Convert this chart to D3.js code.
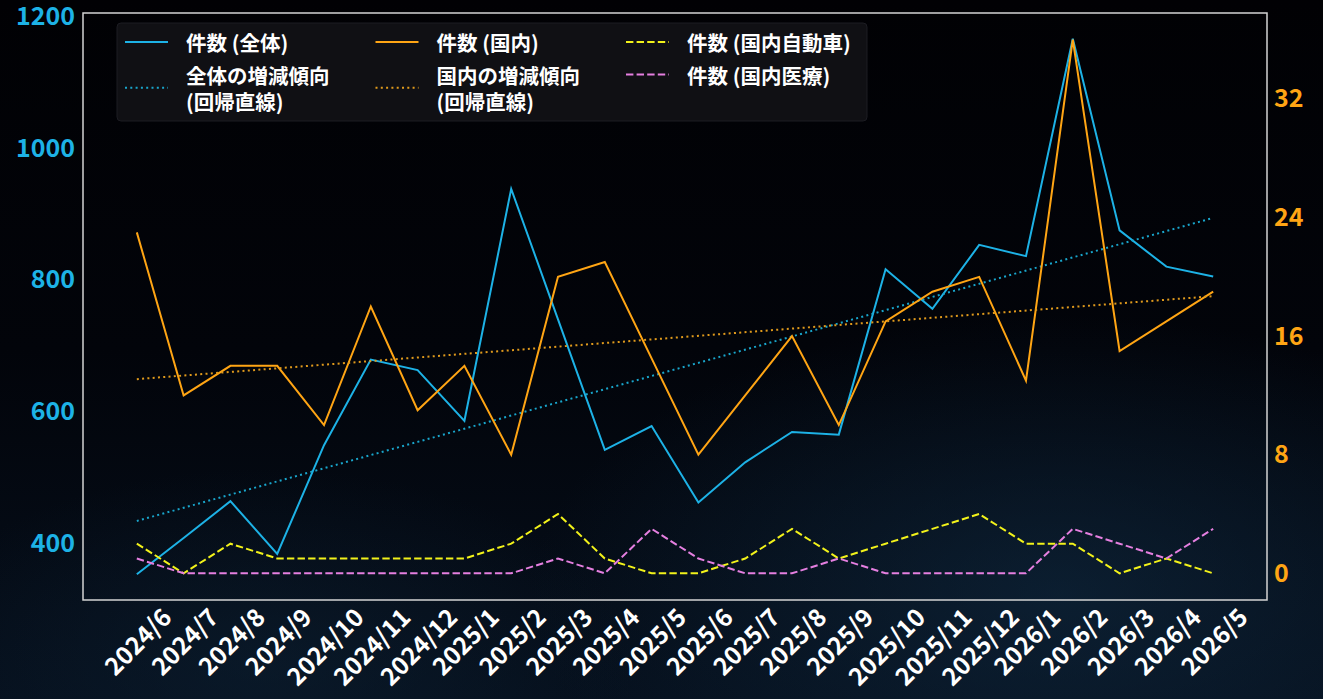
<!DOCTYPE html>
<html>
<head>
<meta charset="utf-8">
<script src="https://cdn.jsdelivr.net/npm/d3@7"></script>
<style>
  body { margin: 0; background: #000; }
  svg { display: block; }
  text { font-family: "Noto Sans CJK JP", "Noto Sans", sans-serif; font-weight: bold; }
</style>
</head>
<body>
<div class="chart"></div>
<script>
// months on the x axis
const months = ["2024/6","2024/7","2024/8","2024/9","2024/10","2024/11","2024/12",
    "2025/1","2025/2","2025/3","2025/4","2025/5","2025/6","2025/7","2025/8","2025/9",
    "2025/10","2025/11","2025/12","2026/1","2026/2","2026/3","2026/4","2026/5"];

// left axis: total count
const totalCounts = [353, 408, 464, 384, 549, 679, 663, 586, 938, 740, 542, 578,
    462, 523, 569, 565, 816, 756, 853, 836, 1166, 875, 820, 805];
// right axis: domestic counts
const domesticCounts = [23, 12, 14, 14, 10, 18, 11, 14, 8, 20, 21, 14.5,
    8, 12, 16, 10, 17, 19, 20, 13, 36, 15, 17, 19];
const autoCounts = [2, 0, 2, 1, 1, 1, 1, 1, 2, 4, 1, 0,
    0, 1, 3, 1, 2, 3, 4, 2, 2, 0, 1, 0];
const medicalCounts = [1, 0, 0, 0, 0, 0, 0, 0, 0, 1, 0, 3,
    1, 0, 0, 1, 0, 0, 0, 0, 3, 2, 1, 3];

// regression lines (first month, last month)
const totalTrend = [434, 894];
const domesticTrend = [13.1, 18.7];

const leftTicks = [400, 600, 800, 1000, 1200];
const rightTicks = [0, 8, 16, 24, 32];

const W = 1323, H = 699;
const plot = {left: 83, right: 1267, top: 13, bottom: 600};

const blue = "#1db2e6", orange = "#ffa514", yellow = "#f2f21a", pink = "#e57fe0";
const blueTrend = "#19a6cc", orangeTrend = "#e09a1c";

const svg = d3.select(".chart").append("svg")
    .attr("width", W)
    .attr("height", H);

// background
const defs = svg.append("defs");
const lg = defs.append("linearGradient").attr("id", "bgfade")
    .attr("x1", 0).attr("y1", 0).attr("x2", 0).attr("y2", 1);
lg.append("stop").attr("offset", "0%").attr("stop-color", "#010104");
lg.append("stop").attr("offset", "50%").attr("stop-color", "#02040a");
lg.append("stop").attr("offset", "100%").attr("stop-color", "#06101d");
const rg = defs.append("radialGradient").attr("id", "bgglow")
    .attr("cx", "80%").attr("cy", "85%").attr("r", "40%");
rg.append("stop").attr("offset", "0%").attr("stop-color", "#12304a").attr("stop-opacity", 0.5);
rg.append("stop").attr("offset", "100%").attr("stop-color", "#12304a").attr("stop-opacity", 0);
const rg2 = defs.append("radialGradient").attr("id", "bgglow2")
    .attr("cx", "20%").attr("cy", "95%").attr("r", "28%");
rg2.append("stop").attr("offset", "0%").attr("stop-color", "#0e2438").attr("stop-opacity", 0.45);
rg2.append("stop").attr("offset", "100%").attr("stop-color", "#0e2438").attr("stop-opacity", 0);

svg.append("rect").attr("width", W).attr("height", H).attr("fill", "url(#bgfade)");
svg.append("rect").attr("width", W).attr("height", H).attr("fill", "url(#bgglow)");
svg.append("rect").attr("width", W).attr("height", H).attr("fill", "url(#bgglow2)");

// scales
var x = d3.scaleLinear()
    .domain([-1.15, months.length - 1 + 1.15])
    .range([plot.left, plot.right]);
var yL = d3.scaleLinear()
    .domain([314, 1205])
    .range([plot.bottom, plot.top]);
var yR = d3.scaleLinear()
    .domain([-1.8, 37.8])
    .range([plot.bottom, plot.top]);

// axes
svg.append("g")
    .attr("transform", "translate(" + plot.left + ",0)")
    .call(d3.axisLeft(yL).tickValues(leftTicks).tickFormat(d3.format("d")).tickSize(0).tickPadding(8))
    .call(g => g.select(".domain").remove())
    .selectAll("text")
    .attr("fill", blue)
    .style("font-size", "25px");

svg.append("g")
    .attr("transform", "translate(" + plot.right + ",0)")
    .call(d3.axisRight(yR).tickValues(rightTicks).tickFormat(d3.format("d")).tickSize(0).tickPadding(7))
    .call(g => g.select(".domain").remove())
    .selectAll("text")
    .attr("fill", orange)
    .style("font-size", "25px");

// x labels rotated 45deg, centred under each month like matplotlib
const xl = svg.append("g").selectAll("text")
    .data(months)
    .enter()
    .append("text")
    .attr("fill", "#ffffff")
    .style("font-size", "24.5px")
    .attr("text-anchor", "middle")
    .attr("dominant-baseline", "central")
    .text(d => d);
xl.attr("transform", function(d, i) {
    const L = this.getComputedTextLength();
    const h = 19;
    const half = (L + h) / (2 * Math.SQRT2);
    return "translate(" + x(i) + "," + (plot.bottom + 5 + half) + ") rotate(-45)";
});

// lines
const lineL = d3.line().x((d, i) => x(i)).y(d => yL(d));
const lineR = d3.line().x((d, i) => x(i)).y(d => yR(d));
const last = months.length - 1;

svg.append("path")
    .datum(totalCounts)
    .attr("fill", "none")
    .attr("stroke", blue)
    .attr("stroke-width", 2)
    .attr("d", lineL);

svg.append("path")
    .datum([[0, totalTrend[0]], [last, totalTrend[1]]])
    .attr("fill", "none")
    .attr("stroke", blueTrend)
    .attr("stroke-width", 2)
    .attr("stroke-dasharray", "2,3.3")
    .attr("d", d3.line().x(d => x(d[0])).y(d => yL(d[1])));

svg.append("path")
    .datum(domesticCounts)
    .attr("fill", "none")
    .attr("stroke", orange)
    .attr("stroke-width", 2)
    .attr("d", lineR);

svg.append("path")
    .datum([[0, domesticTrend[0]], [last, domesticTrend[1]]])
    .attr("fill", "none")
    .attr("stroke", orangeTrend)
    .attr("stroke-width", 2)
    .attr("stroke-dasharray", "2,3.3")
    .attr("d", d3.line().x(d => x(d[0])).y(d => yR(d[1])));

svg.append("path")
    .datum(autoCounts)
    .attr("fill", "none")
    .attr("stroke", yellow)
    .attr("stroke-width", 2)
    .attr("stroke-dasharray", "7.4,3.2")
    .attr("d", lineR);

svg.append("path")
    .datum(medicalCounts)
    .attr("fill", "none")
    .attr("stroke", pink)
    .attr("stroke-width", 2)
    .attr("stroke-dasharray", "7.4,3.2")
    .attr("d", lineR);

// frame
svg.append("rect")
    .attr("x", plot.left)
    .attr("y", plot.top)
    .attr("width", plot.right - plot.left)
    .attr("height", plot.bottom - plot.top)
    .attr("fill", "none")
    .attr("stroke", "#d4d4d4")
    .attr("stroke-width", 1.5);

// legend
const legendItems = [
    {label: ["件数 (全体)"], color: blue, dash: null, col: 0, row: 0},
    {label: ["全体の増減傾向", "(回帰直線)"], color: blueTrend, dash: "2,3.3", col: 0, row: 1},
    {label: ["件数 (国内)"], color: orange, dash: null, col: 1, row: 0},
    {label: ["国内の増減傾向", "(回帰直線)"], color: orangeTrend, dash: "2,3.3", col: 1, row: 1},
    {label: ["件数 (国内自動車)"], color: yellow, dash: "7.4,3.2", col: 2, row: 0},
    {label: ["件数 (国内医療)"], color: pink, dash: "7.4,3.2", col: 2, row: 1}
];

const legend = svg.append("g");
legend.append("rect")
    .attr("x", 117).attr("y", 23)
    .attr("width", 750).attr("height", 98)
    .attr("rx", 4)
    .attr("fill", "#111116")
    .attr("fill-opacity", 0.92)
    .attr("stroke", "#1c1c22")
    .attr("stroke-width", 1);

const colX = [125, 375.5, 626];
const lineH = 26.5;
legendItems.forEach(item => {
    const top = item.row === 0 ? 42 : 74.5;
    const cy = top + (item.label.length - 1) * lineH / 2;
    const lx = colX[item.col];
    legend.append("line")
        .attr("x1", lx).attr("x2", lx + 43)
        .attr("y1", cy).attr("y2", cy)
        .attr("stroke", item.color)
        .attr("stroke-width", 2)
        .attr("stroke-dasharray", item.dash);
    item.label.forEach((t, k) => {
        legend.append("text")
            .attr("x", lx + 61)
            .attr("y", top + k * lineH)
            .attr("dominant-baseline", "central")
            .attr("fill", "#ffffff")
            .style("font-size", "20.5px")
            .text(t);
    });
});
</script>
</body>
</html>
